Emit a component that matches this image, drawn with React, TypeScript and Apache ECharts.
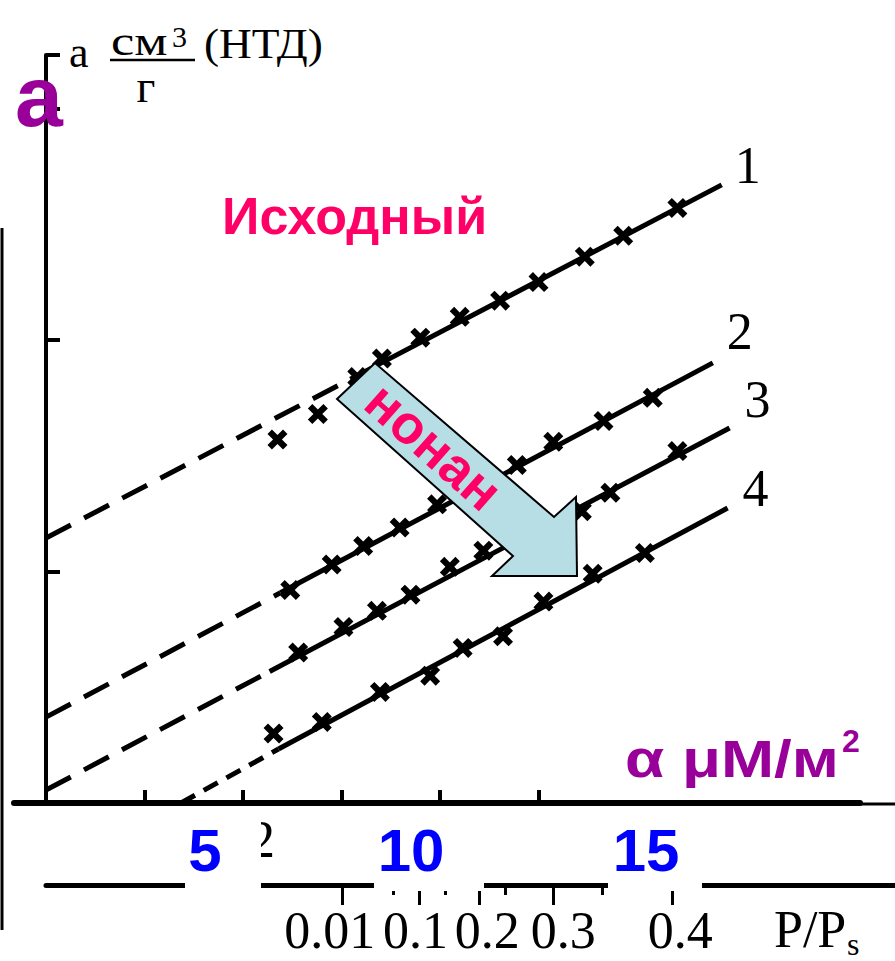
import React, { useEffect, useRef } from 'react';
import * as echarts from 'echarts';

// ---- data (x in tick units of the upper axis, y in tick units of the vertical axis) ----
const curveNames = ['1', '2', '3', '4'];

const curve1Dashed = [[0, 1.145], [3.09, 1.831]];
const curve1Solid = [[3.09, 1.831], [6.86, 2.67]];
const curve1Points = [
  [2.35, 1.57], [2.76, 1.68], [3.16, 1.84], [3.41, 1.92], [3.8, 2.01], [4.2, 2.1],
  [4.61, 2.17], [5.0, 2.25], [5.47, 2.36], [5.86, 2.45], [6.41, 2.57],
];

const curve2Dashed = [[0, 0.371], [2.38, 0.908]];
const curve2Solid = [[2.38, 0.908], [6.77, 1.901]];
const curve2Points = [
  [2.48, 0.92], [2.9, 1.03], [3.22, 1.11], [3.59, 1.19], [3.97, 1.29],
  [4.78, 1.46], [5.15, 1.56], [5.66, 1.65], [6.16, 1.75],
];

const curve3Dashed = [[0, 0.056], [2.27, 0.568]];
const curve3Solid = [[2.27, 0.568], [6.94, 1.62]];
const curve3Points = [
  [2.56, 0.65], [3.02, 0.76], [3.36, 0.83], [3.7, 0.9], [4.1, 1.02], [4.44, 1.09],
  [5.44, 1.26], [5.73, 1.34], [6.41, 1.52],
];

const curve4Dashed = [[1.37, 0], [2.36, 0.233]];
const curve4Solid = [[2.36, 0.233], [6.92, 1.274]];
const curve4Points = [
  [2.31, 0.3], [2.8, 0.35], [3.39, 0.48], [3.9, 0.55], [4.23, 0.67], [4.64, 0.72],
  [5.05, 0.87], [5.55, 0.99], [6.08, 1.08],
];

// upper (α) axis ticks and vertical axis ticks
const upperTickValues = [1, 2, 3, 4, 5];
const yTickInterval = 1;

// lower P/Ps axis
const pLongTicks = [3.01, 3.79, 4.4, 5.15, 6.36];
const pShortTicks = [3.53, 4.05, 4.66, 5.65];
const pLabelPos = [2.88, 3.75, 4.48, 5.25, 6.44];
const pLabels = ['0.01', '0.1', '0.2', '0.3', '0.4'];

// pasted α labels
const alphaLabels = ['5', '10', '15'];

const X_MIN = -0.325;
const X_MAX = 8.264;
const Y_MAX = 3.231;
const P_MAX = 8.619;

const SERIF = 'Liberation Serif, Times New Roman, serif';
const SANS = 'Liberation Sans, Arial, sans-serif';
const X_MARK = 'path://M0,4L4,0L9,5L14,0L18,4L13,9L18,14L14,18L9,13L4,18L0,14L5,9Z';

export default function App() {
  const ref = useRef<HTMLDivElement>(null);

  useEffect(() => {
    const chart = echarts.init(ref.current as HTMLDivElement, null, { renderer: 'svg' });

    const curves = [
      { dashed: curve1Dashed, solid: curve1Solid, points: curve1Points, dash: [28, 15], off: [26, -19] },
      { dashed: curve2Dashed, solid: curve2Solid, points: curve2Points, dash: [28, 15], off: [27, -31] },
      { dashed: curve3Dashed, solid: curve3Solid, points: curve3Points, dash: [28, 15], off: [28, -28] },
      { dashed: curve4Dashed, solid: curve4Solid, points: curve4Points, dash: [16, 10], off: [28, -20] },
    ];

    const series: any[] = [];
    curves.forEach((c, i) => {
      const name = curveNames[i];
      series.push({
        type: 'line', name: name + ' (экстраполяция)', xAxisIndex: 0, yAxisIndex: 0,
        data: c.dashed, showSymbol: false, silent: true, z: 2,
        lineStyle: { color: '#000', width: 5, type: c.dash },
      });
      series.push({
        type: 'line', name, xAxisIndex: 0, yAxisIndex: 0,
        data: c.solid, showSymbol: false, silent: true, z: 3,
        lineStyle: { color: '#000', width: 5, type: 'solid' },
        endLabel: {
          show: true, formatter: () => name, color: '#000', fontFamily: SERIF, fontSize: 52,
          align: 'center', verticalAlign: 'middle', distance: 0, offset: c.off,
        },
      });
      series.push({
        type: 'scatter', name: name + ' точки', xAxisIndex: 0, yAxisIndex: 0,
        data: c.points, symbol: X_MARK, symbolSize: 20, silent: true, z: 4,
        itemStyle: { color: '#000', opacity: 1 },
      });
    });

    const alphaX = [205, 411, 646];
    const boxes = [[185, 261], [374, 484], [608, 702]];

    const graphic: any[] = [
      { type: 'line', z: 100, shape: { x1: 2, y1: 228, x2: 2, y2: 930 }, style: { stroke: '#000', lineWidth: 3 } },
      { type: 'line', z: 100, shape: { x1: 858, y1: 804, x2: 895, y2: 804 }, style: { stroke: '#000', lineWidth: 3 } },
      // axis title  а см³/г (НТД)
      { type: 'text', z: 100, x: 69, y: 52, style: { text: 'а', fontFamily: SERIF, fontSize: 44, fill: '#000', verticalAlign: 'middle' } },
      { type: 'text', z: 100, x: 111, y: 41, scaleX: 1.25, style: { text: 'см', fontFamily: SERIF, fontSize: 42, fill: '#000', verticalAlign: 'middle' } },
      { type: 'text', z: 100, x: 172, y: 36, style: { text: '3', fontFamily: SERIF, fontSize: 30, fill: '#000', verticalAlign: 'middle' } },
      { type: 'line', z: 100, shape: { x1: 110, y1: 60, x2: 195, y2: 60 }, style: { stroke: '#000', lineWidth: 2.5 } },
      { type: 'text', z: 100, x: 146, y: 86, style: { text: 'г', fontFamily: SERIF, fontSize: 46, fill: '#000', align: 'center', verticalAlign: 'middle' } },
      { type: 'text', z: 100, x: 204, y: 44, scaleX: 1.08, style: { text: '(НТД)', fontFamily: SERIF, fontSize: 42, fill: '#000', verticalAlign: 'middle' } },
      // purple panel letter
      { type: 'text', z: 110, x: 15, y: 96, style: { text: 'а', fontFamily: SANS, fontWeight: 'bold', fontSize: 86, fill: '#990099', verticalAlign: 'middle' } },
      // Исходный
      { type: 'text', z: 100, x: 222, y: 216, style: { text: 'Исходный', fontFamily: SANS, fontWeight: 'bold', fontSize: 52, fill: '#FF0066', verticalAlign: 'middle' } },
      // arrow
      {
        type: 'polygon', z: 100,
        shape: { points: [[337, 399], [375, 363], [554, 517], [576, 497], [577, 576], [492, 576], [513, 556]] },
        style: { fill: '#B7DEE4', stroke: '#000', lineWidth: 2 },
      },
      {
        type: 'text', z: 101, x: 434, y: 446, rotation: (-41.5 * Math.PI) / 180,
        style: { text: 'нонан', fontFamily: SANS, fontWeight: 'bold', fontSize: 54, fill: '#FF0066', align: 'center', verticalAlign: 'middle' },
      },
      // α μМ/м²
      { type: 'text', z: 100, x: 625, y: 759, scaleX: 1.25, style: { text: 'α μМ/м', fontFamily: SANS, fontWeight: 'bold', fontSize: 51, fill: '#990099', verticalAlign: 'middle' } },
      { type: 'text', z: 100, x: 842, y: 741, style: { text: '2', fontFamily: SANS, fontWeight: 'bold', fontSize: 32, fill: '#990099', verticalAlign: 'middle' } },
      // leftover "2"
      { type: 'text', z: 100, x: 262, y: 839, style: { text: '2', fontFamily: SERIF, fontSize: 52, fill: '#000', align: 'center', verticalAlign: 'middle' } },
      // P/Ps
      { type: 'text', z: 100, x: 774, y: 929, style: { text: 'P/P', fontFamily: SERIF, fontSize: 52, fill: '#000', verticalAlign: 'middle' } },
      { type: 'text', z: 100, x: 847, y: 944, style: { text: 's', fontFamily: SERIF, fontSize: 32, fill: '#000', verticalAlign: 'middle' } },
    ];
    boxes.forEach((b) => {
      graphic.push({ type: 'rect', z: 105, shape: { x: b[0], y: 812, width: b[1] - b[0], height: 79 }, style: { fill: '#fff' } });
    });
    alphaLabels.forEach((t, i) => {
      graphic.push({
        type: 'text', z: 106, x: alphaX[i], y: 850,
        style: { text: t, fontFamily: SANS, fontWeight: 'bold', fontSize: 60, fill: '#0000FF', align: 'center', verticalAlign: 'middle' },
      });
    });

    const option: any = {
      animation: false,
      backgroundColor: '#fff',
      grid: [
        { left: 14, right: 35, top: 55, bottom: 158 },
        { left: 46, right: 0, top: 880, height: 5 },
      ],
      xAxis: [
        {
          type: 'value', gridIndex: 0, min: X_MIN, max: X_MAX, position: 'bottom',
          axisLine: { show: true, onZero: true, lineStyle: { color: '#000', width: 6 } },
          axisTick: { show: true, inside: true, length: 13, customValues: upperTickValues, lineStyle: { color: '#000', width: 4 } },
          axisLabel: { show: false }, splitLine: { show: false },
        },
        {
          type: 'value', gridIndex: 1, min: 0, max: P_MAX, position: 'bottom',
          axisLine: { show: true, onZero: false, lineStyle: { color: '#000', width: 5 } },
          axisTick: { show: true, length: 20, customValues: pLongTicks, lineStyle: { color: '#000', width: 3 } },
          axisLabel: {
            show: true, customValues: pLabelPos, margin: 19, color: '#000', fontFamily: SERIF, fontSize: 52,
            formatter: (v: number) => {
              const i = pLabelPos.findIndex((p) => Math.abs(p - v) < 1e-6);
              return i >= 0 ? pLabels[i] : '';
            },
          },
          splitLine: { show: false },
        },
        {
          type: 'value', gridIndex: 1, min: 0, max: P_MAX, position: 'bottom',
          axisLine: { show: false, onZero: false },
          axisTick: { show: true, length: 10, customValues: pShortTicks, lineStyle: { color: '#000', width: 3 } },
          axisLabel: { show: false }, splitLine: { show: false },
        },
      ],
      yAxis: [
        {
          type: 'value', gridIndex: 0, min: 0, max: Y_MAX, interval: yTickInterval,
          axisLine: { show: true, onZero: true, lineStyle: { color: '#000', width: 4 } },
          axisTick: { show: true, inside: true, length: 14, lineStyle: { color: '#000', width: 4 } },
          axisLabel: { show: false }, splitLine: { show: false },
        },
        { type: 'value', gridIndex: 1, min: 0, max: 1, show: false },
      ],
      series,
      graphic,
    };

    chart.setOption(option);
    return () => chart.dispose();
  }, []);

  return <div ref={ref} style={{ position: 'fixed', left: 0, top: 0, width: 895, height: 961 }} />;
}
